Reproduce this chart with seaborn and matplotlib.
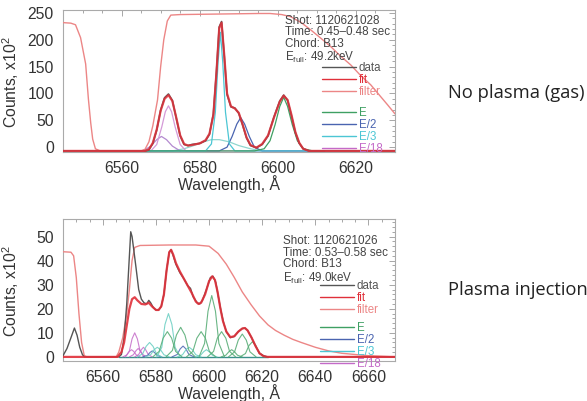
import matplotlib
matplotlib.use("Agg")
import matplotlib.pyplot as plt
import seaborn as sns
from matplotlib.lines import Line2D
from matplotlib.ticker import MultipleLocator

# ---------------- TOP PANEL: no plasma (gas) ----------------
top_fit_x = [6545, 6566, 6567, 6568, 6569, 6570, 6571, 6572, 6573, 6574, 6575, 6576, 6577, 6578, 6580,
             6581.5, 6582.5, 6583.5, 6584.3, 6585, 6585.6, 6586.3, 6587, 6588, 6589, 6590, 6591, 6592,
             6593, 6594.5, 6596, 6597.5, 6599, 6600.5, 6601.5, 6602.5, 6603.5, 6604.5, 6605.5, 6606.5,
             6608, 6630]
top_fit_y = [-7, -7, -4, 8, 33, 68, 90, 97, 86, 55, 22, 6, 3, 4, 7,
             13, 25, 60, 140, 222, 232, 170, 100, 76, 72, 64, 42, 18,
             4, -1, 6, 22, 55, 85, 96, 88, 60, 28, 8, -3,
             -7, -7]
top_data_y = [-7, -7, -5, 7, 32, 69, 92, 99, 87, 54, 21, 5, 3, 5, 7,
              12, 24, 62, 142, 224, 234, 168, 98, 75, 73, 63, 41, 17,
              3, -1, 5, 21, 56, 86, 97, 87, 58, 27, 7, -3,
              -7, -7]
top_filter_x = [6545, 6547, 6548.2, 6549.5, 6550.8, 6551.5, 6552.1, 6552.6, 6553.3, 6554.5, 6565, 6566,
                6567, 6568, 6569.2, 6570, 6570.8, 6571.7, 6572.6, 6575, 6585, 6595, 6598, 6601, 6603.3,
                6606, 6608.5, 6611, 6613.6, 6616, 6618.7, 6621, 6623.8, 6626, 6628.2, 6630]
top_filter_y = [232, 231, 228, 204, 155, 90, 45, 15, -3, -7, -7, -4,
                10, 40, 88, 150, 200, 235, 246, 247, 248, 249, 249, 247, 243,
                232, 218, 203, 187, 170, 153, 135, 116, 97, 78, 62]
top_E_x = [6566, 6594, 6596.5, 6598, 6599.3, 6600.5, 6601.5, 6602.5, 6603.7, 6605, 6606.5, 6609, 6612]
top_E_y = [-7, -7, -3, 12, 42, 76, 93, 76, 42, 12, -3, -7, -7]
top_E2_x = [6566, 6585, 6587, 6588.3, 6589.5, 6590.5, 6591.5, 6592.7, 6594, 6596, 6612]
top_E2_y = [-7, -7, 0, 20, 43, 55, 43, 20, 0, -7, -7]
top_E3_x = [6566, 6581.5, 6583, 6584, 6584.7, 6585.3, 6585.9, 6586.6, 6587.6, 6589, 6612]
top_E3_y = [-7, -7, 6, 65, 158, 214, 158, 65, 6, -7, -7]
top_E3b_x = [6566, 6573, 6576, 6578.5, 6581, 6583, 6585, 6587.5, 6590, 6593, 6596, 6612]
top_E3b_y = [-7, -7, -3, 3, 10, 14, 14, 10, 3, -3, -7, -7]
top_E18_x = [6566, 6567.5, 6569, 6570.3, 6571.2, 6572, 6572.8, 6573.7, 6575, 6576.5, 6612]
top_E18_y = [-7, -7, 5, 38, 66, 77, 66, 38, 5, -7, -7]
top_E18b_x = [6565.5, 6567.5, 6569, 6570.2, 6571.5, 6573, 6575]
top_E18b_y = [-7, 2, 14, 20, 14, 2, -7]
top_text = ["Shot: 1120621028", "Time: 0.45\u20130.48 sec", "Chord: B13", "E$_{full}$: 49.2keV"]

# ---------------- BOTTOM PANEL: plasma injection ----------------
bot_fit_x = [6545, 6565.5, 6567, 6568, 6569, 6570, 6571, 6572, 6573, 6574.5, 6576, 6577.3, 6578.5, 6580,
             6581, 6582, 6583, 6584, 6585, 6585.7, 6586.5, 6587.5, 6589, 6590.5, 6592, 6593.5, 6595, 6596,
             6597, 6598.5, 6600, 6601.2, 6602.2, 6603.2, 6604.2, 6605.2, 6606.5, 6608, 6609.5, 6611,
             6612.5, 6613.5, 6614.5, 6616, 6617.5, 6619, 6620.5, 6622, 6670]
bot_fit_y = [0, 0, 2, 6, 13, 20, 24, 24.8, 23.5, 22, 21.8, 22.5, 21, 19.5,
             19.5, 21, 26, 36, 43.5, 44.5, 42.5, 39, 35.5, 32.5, 29.5, 26.5, 23, 22,
             22.5, 26, 31.5, 33.5, 32, 27, 20.5, 15, 10.5, 8.2, 8.6, 10.5,
             11.8, 12, 11, 8, 4.5, 1.5, 0.3, 0, 0]
bot_data_x = [6545, 6546.5, 6548, 6549.3, 6550.3, 6551.3, 6552.3, 6553, 6566, 6567, 6568, 6569, 6570,
              6570.5, 6571, 6571.7, 6572.5, 6573.5, 6574.5, 6575.5, 6576.5, 6577.3, 6578, 6579, 6580,
              6581, 6582, 6583, 6584, 6585, 6585.7, 6586.5, 6587.5, 6589, 6590.5, 6592, 6593, 6594,
              6595.5, 6596.5, 6597.5, 6599, 6600.5, 6601.5, 6602.5, 6603.5, 6604.5, 6605.5, 6606.5,
              6608, 6609.5, 6611, 6612.5, 6613.5, 6614.5, 6616, 6617.5, 6619, 6620.5, 6622, 6670]
bot_data_y = [0.5, 3.5, 8, 12, 9, 4, 1, 0, 0, 1, 8, 22, 42,
              52, 50, 44, 37, 28, 24, 22.5, 22, 23.5, 22.5, 20.5, 19.5,
              19.5, 21, 26, 36, 43.5, 44.5, 42, 38.5, 35, 32.5, 29.5, 28.5, 25,
              22.5, 22, 23.5, 28, 33, 33.5, 31, 25, 19, 14, 10.5,
              8, 8.5, 10.5, 11.8, 12, 11, 8, 4.5, 1.5, 0.5, 0, 0]
bot_filter_x = [6545, 6548, 6549, 6550, 6551, 6552, 6553, 6554, 6565, 6566, 6567.5, 6569, 6570, 6571,
                6572, 6574, 6585, 6595, 6600, 6603.4, 6606.5, 6609.5, 6612.5, 6615.8, 6619, 6622.2,
                6625, 6628.3, 6631.5, 6634.7, 6640, 6645, 6650, 6660, 6670]
bot_filter_y = [43.7, 43.5, 42, 33, 18, 6, 0.5, 0, 0, 2, 8, 18, 28, 40,
                45.5, 46.3, 46.5, 46.5, 46, 43, 38.5, 33, 27, 21.7, 17, 13.3,
                11, 9, 7.3, 6, 4, 2.5, 1.5, 0.5, 0]
# Gaussian-like components of the fit, one x/y list per peak
bot_E_x = [[6578.8, 6581.2, 6582.7, 6584.3, 6585.9, 6587.4, 6589.8],
           [6583.8, 6586.2, 6587.7, 6589.3, 6590.9, 6592.4, 6594.8],
           [6591.5, 6593.9, 6595.4, 6597, 6598.6, 6600.1, 6602.5],
           [6596.2, 6598.3, 6599.6, 6601, 6602.4, 6603.7, 6605.8],
           [6599.4, 6601.7, 6603.1, 6604.7, 6606.3, 6607.7, 6610],
           [6604.5, 6606.3, 6607.5, 6608.5, 6609.5, 6610.7, 6612.5],
           [6607.3, 6609.6, 6611, 6612.5, 6614, 6615.4, 6617.7],
           [6611.6, 6613.7, 6615, 6616.3, 6617.6, 6618.9, 6621]]
bot_E_y = [[0, 2.3, 7.8, 10.5, 7.8, 2.3, 0],
           [0, 2.7, 9.1, 12.3, 9.1, 2.7, 0],
           [0, 2.3, 7.8, 10.5, 7.8, 2.3, 0],
           [0, 5.6, 19, 25.5, 19, 5.6, 0],
           [0, 2.3, 7.8, 10.5, 7.8, 2.3, 0],
           [0, 0.7, 2.2, 3, 2.2, 0.7, 0],
           [0, 2.1, 7, 9.5, 7, 2.1, 0],
           [0, 1.4, 4.7, 6.3, 4.7, 1.4, 0]]
bot_E2_x = [[6575, 6576.8, 6577.8, 6578.6, 6579.4, 6580.4, 6582.2],
            [6586, 6588, 6589.1, 6590.2, 6591.3, 6592.4, 6594.4]]
bot_E2_y = [[0, 0.6, 1.9, 2.5, 1.9, 0.6, 0],
            [0, 1, 3.3, 4.5, 3.3, 1, 0]]
bot_E3_x = [[6573, 6575, 6576.3, 6577.6, 6578.9, 6580.2, 6582.2],
            [6576, 6578, 6579.3, 6580.5, 6581.7, 6583, 6585],
            [6580.3, 6582.2, 6583.4, 6584.7, 6586, 6587.2, 6589.1],
            [6588, 6590, 6591.3, 6592.5, 6593.7, 6595, 6597],
            [6595, 6596.8, 6598, 6599, 6600, 6601.2, 6603]]
bot_E3_y = [[0, 1.3, 4.4, 6, 4.4, 1.3, 0],
            [0, 0.9, 3, 4, 3, 0.9, 0],
            [0, 4, 13.5, 18, 13.5, 4, 0],
            [0, 0.9, 3, 4, 3, 0.9, 0],
            [0, 0.7, 2.2, 3, 2.2, 0.7, 0]]
bot_E18_x = [[6568.5, 6570, 6571, 6572, 6573, 6574, 6575.5],
             [6567.5, 6569, 6570, 6570.8, 6571.6, 6572.6, 6574],
             [6570, 6571.5, 6572.5, 6573.3, 6574.1, 6575.1, 6576.6],
             [6572, 6573.5, 6574.5, 6575.3, 6576.1, 6577.1, 6578.6]]
bot_E18_y = [[0, 2.5, 7.5, 10, 7.5, 2.5, 0],
             [0, 0.8, 2.3, 3, 2.3, 0.8, 0],
             [0, 0.9, 2.6, 3.5, 2.6, 0.9, 0],
             [0, 1, 3, 4, 3, 1, 0]]
bot_base_x = [6566, 6622]
bot_base_y = [0, 0]
bot_text = ["Shot: 1120621026", "Time: 0.53\u20130.58 sec", "Chord: B13", "E$_{full}$: 49.0keV"]

legend1_labels = ["data", "fit", "filter"]
legend2_labels = ["E", "E/2", "E/3", "E/18"]
side_labels = ["No plasma (gas)", "Plasma injection"]

# ---------------- style ----------------
C_DATA = "#555555"
C_FIT = "#e0303a"
C_FILTER = "#ec8686"
C_E = "#3fa063"
C_E2 = "#4a64b0"
C_E3 = "#4cc6d4"
C_E18 = "#c46ac8"
C_TEXT = "#333333"

sns.set_theme(style="white")
plt.rcParams["font.family"] = ["Liberation Sans", "DejaVu Sans"]
plt.rcParams["mathtext.fontset"] = "custom"
plt.rcParams["mathtext.rm"] = "Liberation Sans"
plt.rcParams["mathtext.it"] = "Liberation Sans:italic"
plt.rcParams["mathtext.default"] = "regular"

fig = plt.figure(figsize=(5.87, 4.01), dpi=100)
ax1 = fig.add_axes([63 / 587, 1 - 152 / 401, 332 / 587, 142 / 401])
ax2 = fig.add_axes([63 / 587, 1 - 361 / 401, 332 / 587, 142 / 401])


def draw(ax, xs, ys, color, lw, z, alpha=1.0):
    sns.lineplot(x=xs, y=ys, ax=ax, color=color, linewidth=lw, zorder=z, alpha=alpha,
                 sort=False, estimator=None, legend=False)


# top panel
draw(ax1, top_E3b_x, top_E3b_y, "#8fd6cf", 0.9, 2)
draw(ax1, top_E18b_x, top_E18b_y, "#b48ad0", 0.9, 2)
draw(ax1, top_E18_x, top_E18_y, "#d49ad8", 0.9, 2)
draw(ax1, top_E2_x, top_E2_y, C_E2, 0.9, 2)
draw(ax1, top_E3_x, top_E3_y, C_E3, 0.9, 2)
draw(ax1, top_E_x, top_E_y, C_E, 0.9, 2)
draw(ax1, top_filter_x, top_filter_y, C_FILTER, 1.0, 3)
draw(ax1, top_fit_x, top_data_y, C_DATA, 1.2, 4)
draw(ax1, top_fit_x, top_fit_y, C_FIT, 1.6, 5, alpha=0.85)

# bottom panel
draw(ax2, bot_base_x, bot_base_y, "#3a8f8a", 1.0, 2)
for xs, ys in zip(bot_E18_x, bot_E18_y):
    draw(ax2, xs, ys, C_E18, 0.8, 2, alpha=0.85)
for xs, ys in zip(bot_E2_x, bot_E2_y):
    draw(ax2, xs, ys, C_E2, 0.8, 2, alpha=0.85)
for xs, ys in zip(bot_E3_x, bot_E3_y):
    draw(ax2, xs, ys, "#6fd0c4", 0.8, 2, alpha=0.9)
for xs, ys in zip(bot_E_x, bot_E_y):
    draw(ax2, xs, ys, "#5aae78", 0.8, 2, alpha=0.9)
draw(ax2, bot_filter_x, bot_filter_y, C_FILTER, 1.0, 3)
draw(ax2, bot_data_x, bot_data_y, C_DATA, 1.0, 4)
draw(ax2, bot_fit_x, bot_fit_y, C_FIT, 1.6, 5, alpha=0.9)

ax1.set_xlim(6545, 6630)
ax1.set_ylim(-9, 255.5)
ax2.set_xlim(6545, 6670)
ax2.set_ylim(-1.7, 57.3)
ax1.set_yticks([0, 50, 100, 150, 200, 250])
ax2.set_yticks([0, 10, 20, 30, 40, 50])
ax1.set_xticks([6560, 6580, 6600, 6620])
ax2.set_xticks([6560, 6580, 6600, 6620, 6640, 6660])
ax1.yaxis.set_minor_locator(MultipleLocator(10))
ax2.yaxis.set_minor_locator(MultipleLocator(2))
for ax in (ax1, ax2):
    ax.xaxis.set_minor_locator(MultipleLocator(5))
    ax.tick_params(which="both", direction="in", top=True, right=True, colors="#999999",
                   labelcolor=C_TEXT, labelsize=11.3, width=0.6, pad=6.5)
    ax.tick_params(which="major", length=4)
    ax.tick_params(which="minor", length=2)
    for s in ax.spines.values():
        s.set_color("#aaaaaa")
        s.set_linewidth(0.8)
    ax.set_xlabel("Wavelength, \u00c5", fontsize=11.3, color=C_TEXT)
    ax.set_ylabel("Counts, x10$^2$", fontsize=11.3, color=C_TEXT)
    ax.yaxis.set_label_coords(-0.125, 0.49)
ax1.xaxis.set_label_coords(0.5, -0.162)
ax2.xaxis.set_label_coords(0.5, -0.160)

# annotation text
for ax, lines, x0, ys in ((ax1, top_text, 0.669, [0.923, 0.842, 0.761, 0.664]),
                          (ax2, bot_text, 0.663, [0.842, 0.761, 0.680, 0.583])):
    for t, y in zip(lines, ys):
        ax.text(x0, y, t, transform=ax.transAxes, fontsize=8.4, color="#444444",
                ha="left", va="center", zorder=6)

# legends
h1 = [Line2D([], [], color=C_DATA, lw=1.0), Line2D([], [], color=C_FIT, lw=1.0),
      Line2D([], [], color=C_FILTER, lw=1.0)]
h2 = [Line2D([], [], color=C_E, lw=1.0), Line2D([], [], color=C_E2, lw=1.0),
      Line2D([], [], color=C_E3, lw=1.0), Line2D([], [], color=C_E18, lw=1.0)]
leg_kw = dict(loc="upper left", frameon=False, fontsize=8.3, handlelength=2.95,
              handletextpad=0.25, borderpad=0, borderaxespad=0, labelspacing=0.0,
              labelcolor="linecolor")
for ax, xa, y1, y2 in ((ax1, 0.780, 0.632, 0.315), (ax2, 0.774, 0.568, 0.273)):
    l1 = ax.legend(h1, legend1_labels, bbox_to_anchor=(xa, y1), **leg_kw)
    ax.add_artist(l1)
    l2 = ax.legend(h2, legend2_labels, bbox_to_anchor=(xa, y2), **leg_kw)
    for lg in (l1, l2):
        lg.set_zorder(7)

fig.text(448 / 587, 1 - 93 / 401, side_labels[0], fontsize=13.2, family=["Open Sans", "DejaVu Sans"],
         color="#222222", ha="left", va="center")
fig.text(448 / 587, 1 - 290 / 401, side_labels[1], fontsize=13.2, family=["Open Sans", "DejaVu Sans"],
         color="#222222", ha="left", va="center")

fig.savefig("out.png", dpi=100)
